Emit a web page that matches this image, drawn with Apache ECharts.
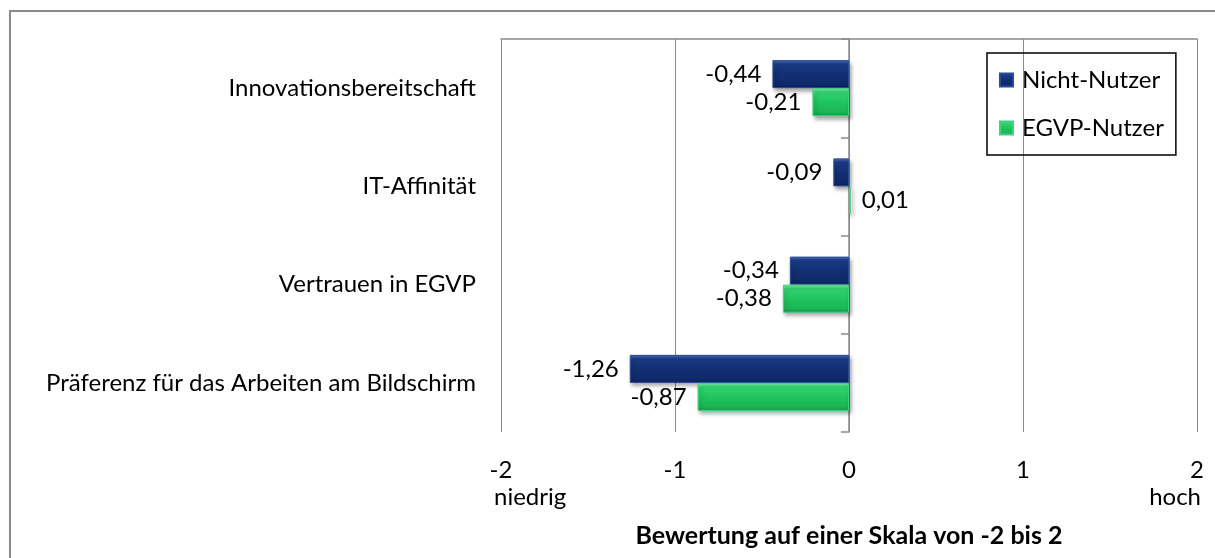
<!DOCTYPE html>
<html>
<head>
<meta charset="utf-8">
<script src="https://cdn.jsdelivr.net/npm/echarts@6/dist/echarts.min.js"></script>
<style>
  html, body { margin: 0; padding: 0; background: #fff; }
  #main { width: 1215px; height: 558px; }
</style>
</head>
<body>
<div id="main"></div>
<script>
// data
var categories = ['Innovationsbereitschaft', 'IT-Affinität', 'Vertrauen in EGVP', 'Präferenz für das Arbeiten am Bildschirm'];
var nichtNutzer = [-0.44, -0.09, -0.34, -1.26];
var egvpNutzer = [-0.21, 0.01, -0.38, -0.87];
var xTicks = [-2, -1, 0, 1, 2];

var font = 'Lato';
var fs = 24;

function fmt(v) {
  return v.toFixed(2).replace('.', ',');
}

function withLabels(values) {
  return values.map(function (v) {
    return { value: v, label: { position: v < 0 ? 'left' : 'right' } };
  });
}

var blueFill = new echarts.graphic.LinearGradient(0, 0, 0, 1, [
  { offset: 0, color: '#4f72bd' },
  { offset: 0.14, color: '#1c3c88' },
  { offset: 0.5, color: '#132f74' },
  { offset: 0.86, color: '#0f2a6a' },
  { offset: 1, color: '#0a1f55' }
]);
var greenFill = new echarts.graphic.LinearGradient(0, 0, 0, 1, [
  { offset: 0, color: '#7ff0a8' },
  { offset: 0.14, color: '#34d673' },
  { offset: 0.5, color: '#20c45e' },
  { offset: 0.86, color: '#1cb555' },
  { offset: 1, color: '#159446' }
]);

var chart = echarts.init(document.getElementById('main'));
chart.setOption({
  animation: false,
  textStyle: { fontFamily: font },
  grid: { left: 501, right: 18, top: 39, bottom: 126, containLabel: false, outerBoundsMode: 'none' },
  legend: {
    orient: 'vertical',
    left: 987,
    top: 53,
    padding: [15, 12, 15, 12],
    itemWidth: 13,
    itemHeight: 13,
    itemGap: 24,
    icon: 'rect',
    borderColor: '#000',
    borderWidth: 1.5,
    textStyle: { fontFamily: font, fontSize: fs, color: '#000', lineHeight: 24, padding: [0, 0, 0, 4] },
    data: ['Nicht-Nutzer', 'EGVP-Nutzer']
  },
  xAxis: [{
    type: 'value',
    min: -2,
    max: 2,
    interval: 1,
    axisLine: { show: false },
    axisTick: { show: false },
    splitLine: { lineStyle: { color: '#8a8a8a', width: 1 } },
    axisLabel: {
      margin: 26,
      fontSize: fs,
      color: '#000',
      fontFamily: font,
      formatter: function (v) { return xTicks.indexOf(v) >= 0 ? String(v) : ''; }
    },
    name: 'Bewertung auf einer Skala von -2 bis 2',
    nameLocation: 'middle',
    nameGap: 91,
    nameTextStyle: { fontFamily: font, fontSize: 25, fontWeight: 'bold', color: '#000', verticalAlign: 'top' }
  }, {
    type: 'value',
    position: 'top',
    min: -2,
    max: 2,
    interval: 1,
    axisLine: { show: true, lineStyle: { color: '#8a8a8a', width: 1.5 } },
    axisTick: { show: false },
    axisLabel: { show: false },
    splitLine: { show: false }
  }],
  yAxis: {
    type: 'category',
    inverse: true,
    data: categories,
    axisLine: { onZero: true, lineStyle: { color: '#8a8a8a', width: 1.5 } },
    axisTick: { show: true, length: 8, lineStyle: { color: '#8a8a8a', width: 1.5 } },
    axisLabel: { margin: 25, fontSize: fs, color: '#000', fontFamily: font }
  },
  series: [{
    name: 'Nicht-Nutzer',
    type: 'bar',
    barGap: '0%',
    barCategoryGap: '43%',
    data: withLabels(nichtNutzer),
    itemStyle: {
      color: blueFill,
      borderColor: '#2a4a95',
      borderWidth: 1,
      shadowColor: 'rgba(0,0,0,0.35)',
      shadowBlur: 4,
      shadowOffsetX: 2,
      shadowOffsetY: 3
    },
    label: { show: true, distance: 11, fontSize: fs, color: '#000', fontFamily: font, formatter: function (p) { return fmt(p.value); } }
  }, {
    name: 'EGVP-Nutzer',
    type: 'bar',
    data: withLabels(egvpNutzer),
    itemStyle: {
      color: greenFill,
      borderColor: '#3fd27a',
      borderWidth: 1,
      shadowColor: 'rgba(0,0,0,0.35)',
      shadowBlur: 4,
      shadowOffsetX: 2,
      shadowOffsetY: 3
    },
    label: { show: true, distance: 11, fontSize: fs, color: '#000', fontFamily: font, formatter: function (p) { return fmt(p.value); } }
  }],
  graphic: [{
    type: 'rect',
    shape: { x: 10, y: 11, width: 1220, height: 600 },
    style: { fill: 'none', stroke: '#8a8a8a', lineWidth: 2 },
    silent: true
  }, {
    type: 'text',
    left: 494,
    top: 485,
    style: { text: 'niedrig', font: fs + 'px ' + font, fill: '#000' }
  }, {
    type: 'text',
    right: 14,
    top: 485,
    style: { text: 'hoch', font: fs + 'px ' + font, fill: '#000' }
  }]
});
</script>
</body>
</html>
